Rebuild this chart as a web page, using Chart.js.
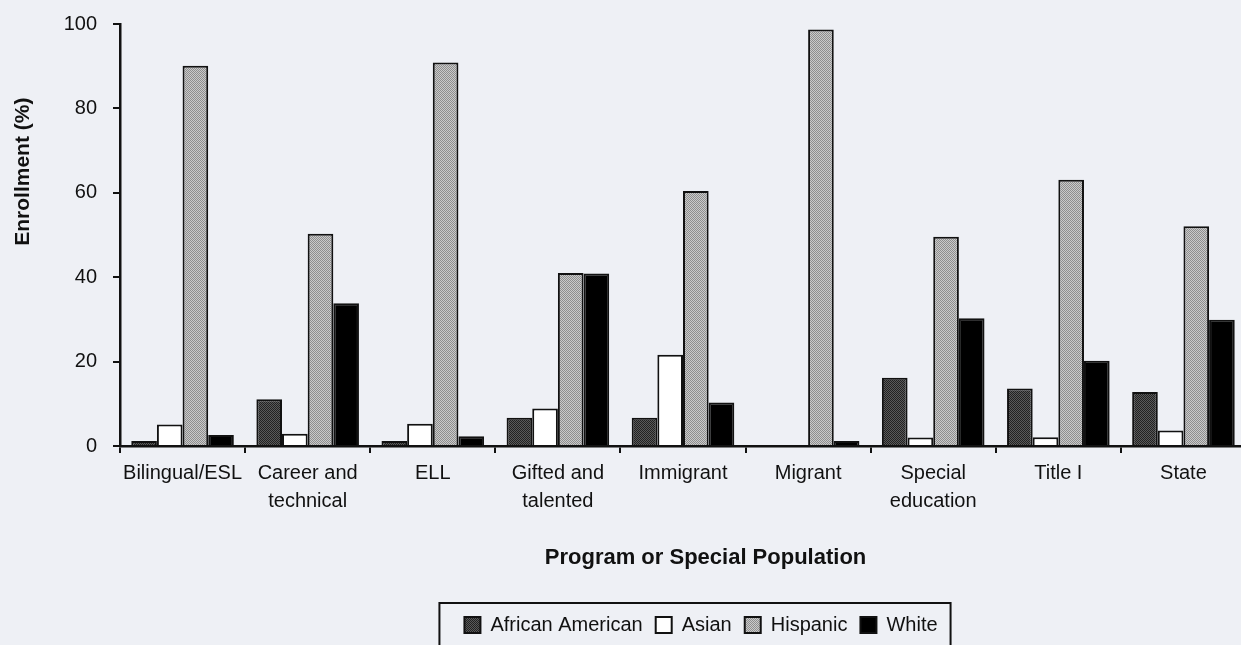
<!DOCTYPE html>
<html>
<head>
<meta charset="utf-8">
<script src="https://cdn.jsdelivr.net/npm/chart.js@4.4.1/dist/chart.umd.min.js"></script>
<style>
  html, body { margin: 0; padding: 0; background: #eef0f5; overflow: hidden; }
  #wrap { position: relative; width: 1246px; height: 645px; }
</style>
</head>
<body>
<div id="wrap"><canvas id="enrollChart"></canvas></div>
<script>
// Data
const categories = [
  'Bilingual/ESL', ['Career and', 'technical'], 'ELL', ['Gifted and', 'talented'],
  'Immigrant', 'Migrant', ['Special', 'education'], 'Title I', 'State'
];
const africanAmerican = [1.2, 11.1, 1.2, 6.7, 6.7, 0, 16.2, 13.6, 12.8];
const asian           = [5.1, 2.9, 5.3, 8.9, 21.6, 0, 2.0, 2.1, 3.7];
const hispanic        = [90.1, 50.3, 90.9, 41.0, 60.4, 98.7, 49.6, 63.1, 52.1];
const white           = [2.6, 33.8, 2.3, 40.9, 10.3, 1.2, 30.3, 20.2, 29.9];
const yTicks = [0, 20, 40, 60, 80, 100];
const xTitle = 'Program or Special Population';
const yTitle = 'Enrollment (%)';

const FONT = '"Liberation Sans", Arial, sans-serif';

// dithered fills like the scanned print
function makePattern(base, dot) {
  const p = document.createElement('canvas');
  p.width = p.height = 2;
  const g = p.getContext('2d');
  g.fillStyle = base;
  g.fillRect(0, 0, 2, 2);
  g.fillStyle = dot;
  g.fillRect(0, 0, 1, 1);
  g.fillRect(1, 1, 1, 1);
  return g.createPattern(p, 'repeat');
}
const darkFill = makePattern('#5a5a5a', '#222222');
const lightFill = makePattern('#cacaca', '#8e8e8e');

// axis titles and the frame round the legend
const extras = {
  id: 'extras',
  afterLayout(chart) {
    // legend sits a little right of the plot centre in the original
    chart.legend.left += 18;
    chart.legend.right += 18;
  },
  afterDraw(chart) {
    const { ctx, chartArea } = chart;
    ctx.save();
    ctx.fillStyle = '#111';
    ctx.textAlign = 'center';
    ctx.textBaseline = 'middle';
    ctx.font = 'bold 22px ' + FONT;
    ctx.fillText(xTitle, chartArea.left + chartArea.width * 0.52, chartArea.bottom + 112);
    ctx.font = 'bold 21px ' + FONT;
    ctx.translate(23, chartArea.top + chartArea.height * 0.35);
    ctx.rotate(-Math.PI / 2);
    ctx.fillText(yTitle, 0, 0);
    ctx.restore();

    const boxes = chart.legend.legendHitBoxes;
    if (boxes && boxes.length) {
      const first = boxes[0], last = boxes[boxes.length - 1];
      const left = first.left - 25;
      const right = last.left + last.width + 13;
      const top = first.top - 12;
      ctx.save();
      ctx.strokeStyle = '#111';
      ctx.lineWidth = 2;
      ctx.strokeRect(left, top, right - left, 70);
      ctx.restore();
    }
  }
};

const ctx = document.getElementById('enrollChart').getContext('2d');
const bar = (label, data, fill) => ({
  label: label,
  data: data,
  backgroundColor: fill,
  borderColor: '#111',
  borderWidth: 2,
  borderSkipped: 'start',
  categoryPercentage: 0.82,
  barPercentage: 1.0
});

new Chart(ctx, {
  type: 'bar',
  data: {
    labels: categories,
    datasets: [
      bar('African American', africanAmerican, darkFill),
      bar('Asian', asian, '#ffffff'),
      bar('Hispanic', hispanic, lightFill),
      bar('White', white, '#000000')
    ]
  },
  options: {
    responsive: true,
    maintainAspectRatio: false,
    animation: false,
    layout: { padding: { top: 24, right: 0, bottom: 0, left: 0 } },
    scales: {
      x: {
        grid: { offset: true, drawOnChartArea: false, drawTicks: true, tickLength: 7, color: '#111', lineWidth: 2 },
        border: { display: true, color: '#111', width: 2.5 },
        ticks: { color: '#111', font: { family: FONT, size: 20, lineHeight: 1.4 }, padding: 6, maxRotation: 0, autoSkip: false },
        afterFit(scale) { scale.height = 156; }
      },
      y: {
        min: 0,
        max: 100,
        afterBuildTicks(scale) { scale.ticks = yTicks.map(v => ({ value: v })); },
        grid: { drawOnChartArea: false, drawTicks: true, tickLength: 7, color: '#111', lineWidth: 2 },
        border: { display: true, color: '#111', width: 2.5 },
        ticks: { color: '#111', font: { family: FONT, size: 20 }, padding: 16 },
        afterFit(scale) {
          scale.width = 120;
          scale.paddingTop = 0;
          scale.paddingBottom = 0;
        }
      }
    },
    plugins: {
      legend: {
        position: 'bottom',
        fullSize: false,
        labels: {
          color: '#111',
          font: { family: FONT, size: 20 },
          boxWidth: 16,
          boxHeight: 16,
          padding: 13
        }
      },
      tooltip: { enabled: false }
    }
  },
  plugins: [extras]
});
</script>
</body>
</html>
